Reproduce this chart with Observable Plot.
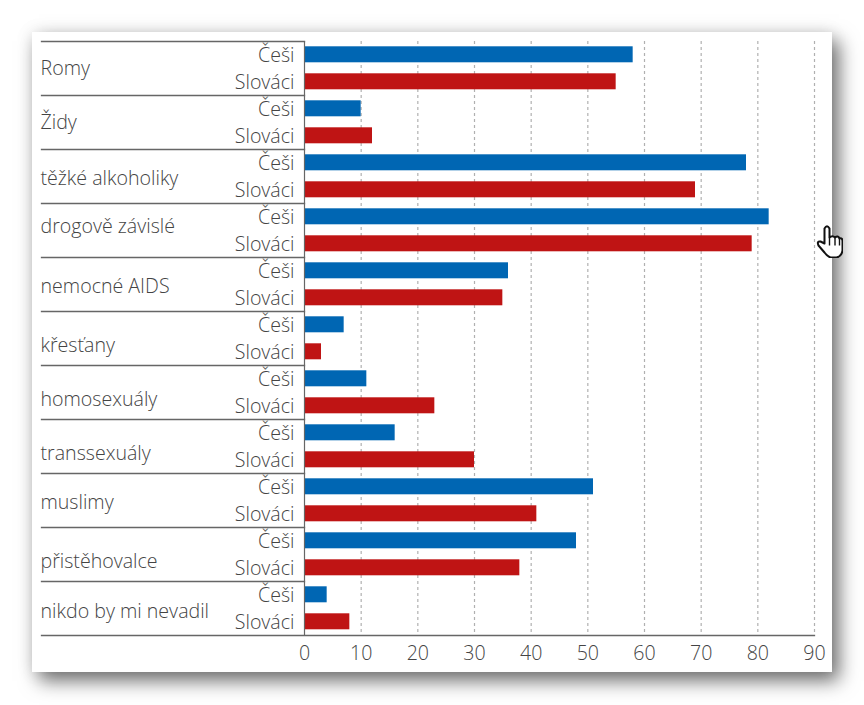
<!DOCTYPE html>
<html lang="cs">
<head>
<meta charset="utf-8">
<script src="https://cdn.jsdelivr.net/npm/d3@7"></script>
<script src="https://cdn.jsdelivr.net/npm/@observablehq/plot@0.6"></script>
<style>
  html, body { margin: 0; padding: 0; background: #fff; }
  #page { position: relative; width: 864px; height: 705px; overflow: hidden; }
  #card { position: absolute; left: 32px; top: 32px; width: 800px; height: 640px; background: #fff;
          box-shadow: 7px 9px 18px rgba(0,0,0,.55), 0 0 16px rgba(0,0,0,.1); }
  #chart { position: absolute; left: 0; top: 0; }
  #chart svg { display: block; }
  #hand { position: absolute; left: 816px; top: 225px; }
</style>
</head>
<body>
<div id="page">
  <div id="card"></div>
  <div id="chart"></div>
  <svg id="hand" width="27" height="33" viewBox="-0.5 -0.5 27 33">
    <path d="M8,18 L8,3 Q10.5,-1.5 13,3 L13,12 Q16,9.5 18.5,12 Q21.5,9.5 23,13 Q26,12 26,16 L26,25 Q25,31 20,32 L14,32 Q11,31 8,27 L2,20 Q0,15.5 4,16 Z"
          fill="#fff" stroke="#111" stroke-width="2" stroke-linejoin="round"/>
    <path d="M13,12 L13,20 M18.5,12 L18.5,20 M23,13 L23,20" fill="none" stroke="#111" stroke-width="1.4"/>
  </svg>
</div>
<script>
const groups = ["Romy", "Židy", "těžké alkoholiky", "drogově závislé", "nemocné AIDS", "křesťany", "homosexuály", "transsexuály", "muslimy", "přistěhovalce", "nikdo by mi nevadil"];
const series = ["Češi", "Slováci"];
const cesi = [58, 10, 78, 82, 36, 7, 11, 16, 51, 48, 4];
const slovaci = [55, 12, 69, 79, 35, 3, 23, 30, 41, 38, 8];
const xTicks = [0, 10, 20, 30, 40, 50, 60, 70, 80, 90];
const gridTicks = xTicks.slice(1);
const colors = ["#0066b3", "#bf1414"];
const labelNudge = [-0.2, -0.2, 1.8, -4.2, 1.8, 6.8, 6.8, 6.8, 1.8, 6.8, 2.8];

const rows = groups.flatMap((g, i) => [
  {group: g, series: series[0], value: cesi[i]},
  {group: g, series: series[1], value: slovaci[i]}
]);

const ink = "#444";
const ruleInk = "#666";
const leftReach = -263;

const chart = Plot.plot({
  width: 864,
  height: 705,
  marginLeft: 304,
  marginRight: 50,
  marginTop: 40.7,
  marginBottom: 70.3,
  style: {background: "transparent", fontFamily: "'Open Sans', sans-serif", fontSize: "19.6px", fontWeight: 300, color: ink},
  x: {domain: [0, 90], axis: null},
  y: {domain: series, paddingInner: 0.41, paddingOuter: 0.205, axis: null, label: null},
  fy: {domain: groups, padding: 0, axis: null, label: null},
  color: {domain: series, range: colors},
  marks: [
    Plot.ruleX(gridTicks, {stroke: "#b0b0b0", strokeWidth: 1.2, strokeDasharray: "3,3"}),
    Plot.barX(rows, {x: "value", y: "series", fy: "group", fill: "series"}),
    Plot.axisY({tickSize: 0, tickPadding: 10, dy: 1.3, textAnchor: "end", fontSize: 19.6, fill: ink, label: null}),
    Plot.frame({anchor: "top", stroke: ruleInk, strokeWidth: 1.3, insetLeft: leftReach, insetRight: 510}),
    Plot.frame({anchor: "bottom", facet: "super", stroke: ruleInk, strokeWidth: 1.3, insetLeft: leftReach}),
    Plot.ruleX([0], {stroke: ruleInk, strokeWidth: 1.2}),
    Plot.axisX(xTicks, {anchor: "bottom", tickSize: 0, tickPadding: 10.5, fontSize: 19.6, fill: ink, label: null}),
    ...groups.map((g, i) => Plot.text([g], {
      fy: d => d,
      text: d => d,
      frameAnchor: "left",
      textAnchor: "start",
      dx: leftReach - 1,
      dy: labelNudge[i],
      fontSize: 19.6,
      fill: ink
    }))
  ]
});
document.getElementById("chart").appendChild(chart);
</script>
</body>
</html>
